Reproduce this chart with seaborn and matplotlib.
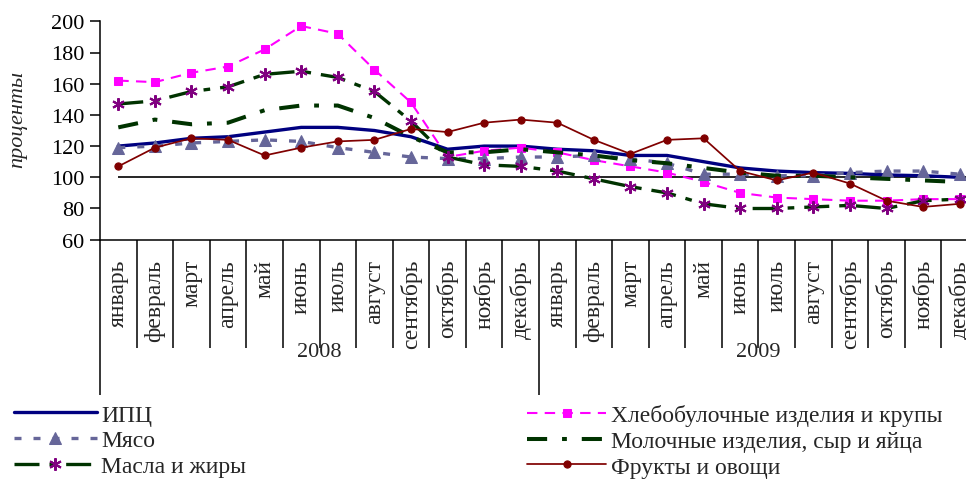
import numpy as np
import matplotlib
matplotlib.use("Agg")
import matplotlib.pyplot as plt
import seaborn as sns

sns.set_theme(style="ticks")
plt.rcParams["font.family"] = ["Liberation Serif", "DejaVu Serif"]

# month names along the bottom, two years of data
months = ["январь", "февраль", "март", "апрель", "май", "июнь", "июль",
          "август", "сентябрь", "октябрь", "ноябрь", "декабрь"]
years = ["2008", "2009"]
baseline = 100

# values, percent
cpi = [120, 122, 125, 126, 129, 132, 132, 130, 126, 118, 120, 120,
       118, 117, 114, 114, 110, 106, 104, 103, 102.5, 101.5, 101, 100]
bread = [162, 161, 167, 171, 182, 197, 192, 169, 148, 113, 117, 119,
         116, 111, 107, 103, 97, 90, 87, 86, 85, 85, 86, 86]
meat = [119, 120, 122, 123, 124, 123, 119, 116, 113, 112, 112, 113,
        113, 114, 112, 109, 102, 102, 101, 101, 103, 104, 104, 102]
dairy = [132, 137, 134, 135, 143, 146, 146, 138, 126, 116, 116, 118,
         116, 114, 111, 109, 106, 103, 101, 101, 100, 99, 98, 97]
oils = [147, 149, 155, 158, 166, 168, 164, 155, 136, 113, 108, 107,
        104, 99, 94, 90, 83, 80, 80, 81, 82, 80, 85, 86]
fruit = [107, 119, 125, 124, 114, 119, 123, 124, 131, 129, 135, 137,
         135, 124, 115, 124, 125, 104, 98, 103, 96, 85, 81, 83]

series = {
    "ИПЦ": cpi,
    "Хлебобулочные изделия и крупы": bread,
    "Мясо": meat,
    "Молочные изделия, сыр и яйца": dairy,
    "Масла и жиры": oils,
    "Фрукты и овощи": fruit,
}

# excel-like look for every line
styles = {
    "ИПЦ": dict(color="#000080", lw=2.4, linestyle="-"),
    "Хлебобулочные изделия и крупы": dict(color="#FF00FF", lw=1.5, linestyle=(0, (5, 3.5)),
                                          marker="s", ms=5.8, mfc="#FF00FF", mec="#FF00FF"),
    "Мясо": dict(color="#666699", lw=2.4, linestyle=(0, (2.1, 3.6)),
                 marker="^", ms=9, mfc="#666699", mec="#666699"),
    "Молочные изделия, сыр и яйца": dict(color="#003300", lw=2.9, linestyle=(0, (5, 3.7, 1.2, 3.7))),
    "Масла и жиры": dict(color="#003300", lw=2.4, linestyle=(0, (7.5, 3, 2, 3)),
                         marker=(6, 2, 0), ms=9, mec="#800080", mew=1.5),
    "Фрукты и овощи": dict(color="#800000", lw=1.25, linestyle="-",
                           marker="o", ms=5.2, mfc="#800000", mec="#800000"),
}

x = np.arange(len(months) * len(years))
month_labels = months * len(years)

W, H = 966, 481
fig = plt.figure(figsize=(W / 100, H / 100), dpi=100)
ax = fig.add_axes([100 / W, 1 - 240.7 / H, 878 / W, 218.4 / H])

ax.hlines(baseline, x[0], x[-1] + 0.5, color="black", lw=1.2, zorder=1)

for name, vals in series.items():
    sns.lineplot(x=x, y=vals, ax=ax, label=name, legend=False, zorder=3, **styles[name])

ax.set_xlim(-0.5, len(x) - 0.5)
ax.set_ylim(60, 200)
ax.set_yticks(np.arange(60, 201, 20))
ax.set_xlabel("")
ax.set_ylabel("проценты", fontsize=16, style="italic")
ax.yaxis.set_label_coords(-0.083, 0.553)

for s in ["top", "right"]:
    ax.spines[s].set_visible(False)
for s in ["left", "bottom"]:
    ax.spines[s].set_color("black")
    ax.spines[s].set_linewidth(1.1)

# category box: short ticks between months, long ones between years
ax.set_xticks(np.arange(len(x) + 1) - 0.5, minor=True)
ax.set_xticks(np.arange(len(years) + 1) * len(months) - 0.5)
ax.set_xticklabels([])
ax.tick_params(axis="x", which="minor", length=77.8, width=1.1, color="black", direction="out")
ax.tick_params(axis="x", which="major", length=111.6, width=1.1, color="black", direction="out")
ax.tick_params(axis="y", length=7.5, width=1.1, color="black", direction="out",
               pad=3.5, labelsize=16, labelcolor="black")

tr = ax.get_xaxis_transform()
for i, m in zip(x, month_labels):
    ax.text(i, -0.088, m, rotation=90, ha="center", va="top", fontsize=17, transform=tr)
for k, yr in enumerate(years):
    ax.text(k * len(months) + (len(months) - 1) / 2, -0.51, yr, ha="center", va="center",
            fontsize=16, transform=tr)

handles, labels = ax.get_legend_handles_labels()
lookup = dict(zip(labels, handles))
names = list(series.keys())
left_names = names[0::2]
right_names = names[1::2]

common = dict(loc="upper left", frameon=False, fontsize=17, labelspacing=0.18,
              borderpad=0, borderaxespad=0, handletextpad=0.2)
fig.legend([lookup[n] for n in left_names], left_names, bbox_to_anchor=(14 / W, 1 - 405 / H),
           handlelength=3.5, **common)
fig.legend([lookup[n] for n in right_names], right_names, bbox_to_anchor=(527 / W, 1 - 405 / H),
           handlelength=3.35, **common)

fig.savefig("out.png", dpi=100)
